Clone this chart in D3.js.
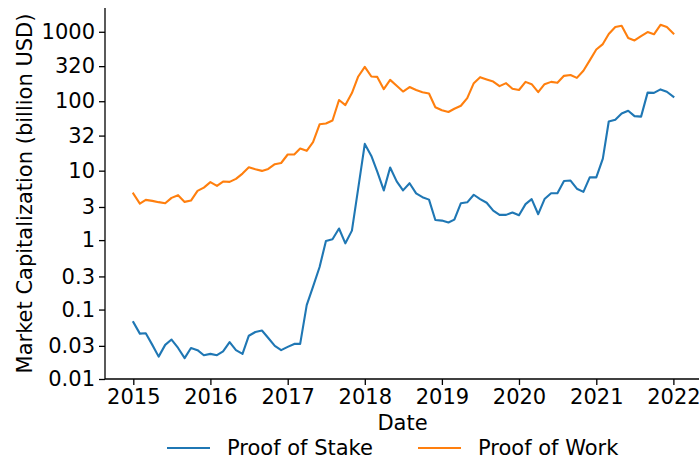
<!DOCTYPE html>
<html>
<head>
<meta charset="utf-8">
<script src="https://cdn.jsdelivr.net/npm/d3@7"></script>
<style>
  html, body { margin: 0; padding: 0; background: #fff; }
  svg { display: block; font-family: "DejaVu Sans", sans-serif; }
</style>
</head>
<body>
<svg id="chart" width="699" height="460"></svg>
<script>
// ---- data (monthly, Jan 2015 .. Jan 2022) ----
const startMonth = "2015-01-01";
const proofOfStake = [
  0.066, 0.045, 0.0455, 0.031, 0.021, 0.031, 0.037, 0.028, 0.020, 0.028, 0.026, 0.022,
  0.023, 0.022, 0.025, 0.034, 0.026, 0.023, 0.042, 0.0475, 0.050, 0.039, 0.030, 0.026,
  0.029, 0.032, 0.032, 0.116, 0.214, 0.41, 0.97, 1.03, 1.47, 0.90, 1.37, 5.6,
  24.3, 16.3, 9.7, 5.2, 11.1, 7.0, 5.2, 6.6, 4.7, 4.15, 3.83, 1.95,
  1.91, 1.79, 1.97, 3.4, 3.5, 4.5, 3.9, 3.45, 2.66, 2.31, 2.31, 2.5,
  2.28, 3.3, 3.9, 2.36, 3.9, 4.74, 4.74, 7.1, 7.2, 5.5, 4.95, 8.0,
  8.0, 14.9, 51, 54, 66.5, 73, 61, 60, 133, 132, 148, 137,
  116
];
const proofOfWork = [
  4.68, 3.36, 3.80, 3.67, 3.52, 3.40, 4.06, 4.44, 3.55, 3.71, 5.12, 5.71,
  6.83, 6.04, 6.97, 6.90, 7.62, 9.08, 11.2, 10.5, 9.93, 10.6, 12.4, 12.9,
  17.1, 17.1, 20.8, 19.3, 25.7, 46.5, 47.7, 52.7, 104, 88, 131, 227,
  313, 227, 224, 149, 203, 167, 138, 160, 145, 135, 129, 82,
  74, 70, 78, 86, 111, 182, 222, 206, 192, 165, 182, 151,
  145, 190, 176, 135, 176, 190, 184, 232, 238, 217, 275, 388,
  555, 665, 927, 1170, 1220, 811, 750, 865, 990, 920, 1260, 1170,
  946
];
const seriesNames = ["Proof of Stake", "Proof of Work"];
const seriesColors = ["#1f77b4", "#ff7f0e"];
const yTickValues = [0.01, 0.03, 0.1, 0.3, 1, 3, 10, 32, 100, 320, 1000];
const yTickLabels = ["0.01", "0.03", "0.1", "0.3", "1", "3", "10", "32", "100", "320", "1000"];
const xTickYears = [2015, 2016, 2017, 2018, 2019, 2020, 2021, 2022];
const yLabel = "Market Capitalization (billion USD)";
const xLabel = "Date";

(function () {
// ---- layout ----
const svg = d3.select("#chart");
const mLeft = 105, mRight = 700, mTop = 8, mBottom = 379;
const FS = 21;

const dates = d3.timeMonth.range(new Date(2015, 0, 1), new Date(2022, 0, 2));
const x = d3.scaleTime()
  .domain([new Date(2014, 7, 20), new Date(2022, 4, 7)])
  .range([mLeft, mRight]);
const y = d3.scaleLog().domain([0.01, 2200]).range([mBottom, mTop]);

const line = d3.line()
  .x(d => x(d.date))
  .y(d => y(d.value));

[proofOfStake, proofOfWork].forEach((vals, k) => {
  const pts = vals.map((v, i) => ({ date: dates[i], value: v }));
  svg.append("path")
    .datum(pts)
    .attr("fill", "none")
    .attr("stroke", seriesColors[k])
    .attr("stroke-width", 2.1)
    .attr("stroke-linejoin", "round")
    .attr("stroke-linecap", "square")
    .attr("d", line);
});

// ---- axes ----
const yAxis = d3.axisLeft(y)
  .tickValues(yTickValues)
  .tickFormat((d, i) => yTickLabels[i])
  .tickSize(6).tickPadding(4);
const gy = svg.append("g").attr("transform", `translate(${mLeft},0)`).call(yAxis);

const xAxis = d3.axisBottom(x)
  .tickValues(xTickYears.map(yr => new Date(yr, 0, 1)))
  .tickFormat(d3.timeFormat("%Y"))
  .tickSize(6).tickPadding(4);
const gx = svg.append("g").attr("transform", `translate(0,${mBottom})`).call(xAxis);

[gx, gy].forEach(g => {
  g.select(".domain").attr("stroke", "#000").attr("stroke-width", 1.3);
  g.selectAll(".tick line").attr("stroke", "#000").attr("stroke-width", 1.3);
  g.selectAll(".tick text").attr("fill", "#000")
    .style("font-family", "'DejaVu Sans', sans-serif").style("font-size", FS + "px");
});
gx.select(".domain").attr("d", `M${mLeft},0H${mRight}`);
gy.select(".domain").attr("d", `M0,${mTop}V${mBottom}`);

// axis labels
svg.append("text")
  .attr("x", (mLeft + mRight) / 2).attr("y", 430)
  .attr("text-anchor", "middle")
  .style("font-size", FS + "px")
  .text(xLabel);

svg.append("text")
  .attr("transform", `translate(32,${(mTop + mBottom) / 2}) rotate(-90)`)
  .attr("text-anchor", "middle")
  .style("font-size", FS + "px")
  .text(yLabel);

// ---- legend ----
const legendItems = [
  { name: seriesNames[0], color: seriesColors[0], x0: 167 },
  { name: seriesNames[1], color: seriesColors[1], x0: 418 }
];
const lg = svg.append("g");
legendItems.forEach(it => {
  lg.append("line")
    .attr("x1", it.x0).attr("x2", it.x0 + 43)
    .attr("y1", 448).attr("y2", 448)
    .attr("stroke", it.color).attr("stroke-width", 2.1);
  lg.append("text")
    .attr("x", it.x0 + 60).attr("y", 455)
    .style("font-size", FS + "px")
    .text(it.name);
});
})();
</script>
</body>
</html>
